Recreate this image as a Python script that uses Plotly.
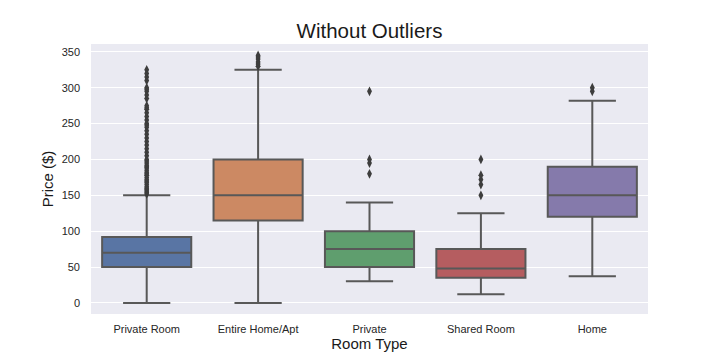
import plotly.graph_objects as go

categories = ["Private Room", "Entire Home/Apt", "Private", "Shared Room", "Home"]
q1 = [50, 115, 50, 35, 120]
median = [70, 150, 75, 48, 150]
q3 = [92, 200, 100, 75, 190]
lower = [0, 0, 30, 12, 37]
upper = [150, 325, 140, 125, 282]
outliers = [
    [152, 154, 156, 158, 160, 162, 165, 168, 170, 172, 175, 178, 180, 182, 185, 188, 190, 192, 195, 198, 200,
     205, 210, 215, 220, 225, 230, 235, 240, 245, 248, 250, 255, 260, 265, 270, 272, 275, 285, 290, 295, 298,
     300, 310, 315, 320, 325],
    [330, 333, 336, 340, 343, 345],
    [180, 195, 200, 295],
    [150, 165, 172, 178, 200],
    [295, 300],
]
colors = ["#5975a4", "#cc8963", "#5f9e6e", "#b55d60", "#857aab"]
line_color = "#585858"

fig = go.Figure()
for i, c in enumerate(categories):
    fig.add_trace(go.Box(
        x=[c], q1=[q1[i]], median=[median[i]], q3=[q3[i]],
        lowerfence=[lower[i]], upperfence=[upper[i]],
        fillcolor=colors[i], line=dict(color=line_color, width=2),
        width=0.8, whiskerwidth=0.53, boxpoints=False, showlegend=False,
        hoverinfo="skip"))
    fig.add_trace(go.Scatter(
        x=[c] * len(outliers[i]), y=outliers[i], mode="markers",
        marker=dict(symbol="diamond-tall", size=7, color="#3d3d3d",
                    line=dict(width=0)),
        showlegend=False, hoverinfo="skip"))

font = "Liberation Sans, Arial, sans-serif"
fig.update_layout(
    width=720, height=360,
    margin=dict(l=91, r=72, t=44, b=46, autoexpand=False),
    paper_bgcolor="white", plot_bgcolor="#EAEAF2",
    boxmode="overlay",
    font=dict(family=font, color="#262626"),
    title=dict(text="Without Outliers", x=0.5, xanchor="center",
               xref="paper", y=1 - 31 / 360, yref="container", yanchor="middle",
               font=dict(size=20.5, color="#1a1a1a")),
)
fig.update_xaxes(
    automargin=False,
    categoryorder="array", categoryarray=categories,
    range=[-0.5, 4.5], showgrid=False, zeroline=False, showline=False,
    tickfont=dict(size=11, color="#262626"), ticks="",
    ticklabelstandoff=7,
    title=dict(text="Room Type", font=dict(size=15, color="#1a1a1a"), standoff=3),
)
fig.update_yaxes(
    automargin=False,
    range=[-15.5, 361], tickvals=[0, 50, 100, 150, 200, 250, 300, 350],
    showgrid=True, gridcolor="white", gridwidth=1, zeroline=False, showline=False,
    tickfont=dict(size=11, color="#262626"), ticks="",
    ticklabelstandoff=10,
    title=dict(text="Price ($)", font=dict(size=15, color="#1a1a1a"), standoff=4),
)
fig.write_html("out.html", post_script="document.body.style.margin='0';",
               config={"displayModeBar": False})
